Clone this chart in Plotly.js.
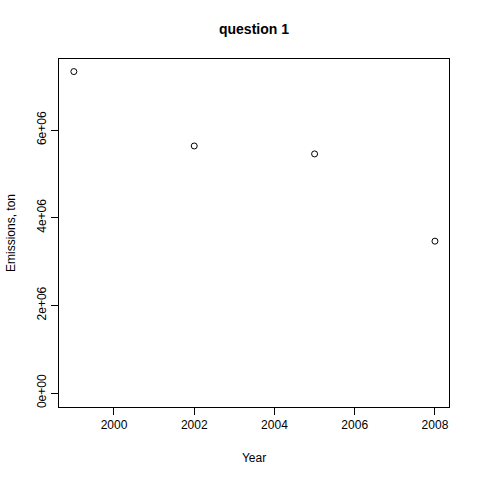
<!DOCTYPE html>
<html><head><script src="https://cdn.plot.ly/plotly-3.0.1.min.js"></script>
<style>body{margin:0}</style></head><body>
<div id="c" style="width:480px;height:480px"></div>
<script>
const years = [1999, 2002, 2005, 2008];
const emissions = [7332967, 5635780, 5454703, 3464206];
const yTickVals = [0, 2e6, 4e6, 6e6];
const yTickText = ["0e+00", "2e+06", "4e+06", "6e+06"];
const xTickVals = [2000, 2002, 2004, 2006, 2008];
const f = {family: "Liberation Sans, Arial, sans-serif", size: 12, color: "black"};
Plotly.newPlot("c", [{
  x: years, y: emissions, type: "scatter", mode: "markers",
  marker: {symbol: "circle-open", size: 6, color: "black", line: {width: 1, color: "black"}}
}], {
  width: 480, height: 480, showlegend: false,
  margin: {l: 59, r: 31, t: 59, b: 73},
  paper_bgcolor: "white", plot_bgcolor: "white",
  font: f,
  title: {text: "<b>question 1</b>", font: {family: f.family, size: 14, color: "black"}, xref: "paper", x: 0.5, y: 0.94, xanchor: "center", yanchor: "middle"},
  xaxis: {range: [1998.63, 2008.35], tickvals: xTickVals, ticks: "outside", ticklen: 7, showgrid: false, zeroline: false,
    showline: true, mirror: true, linecolor: "black", linewidth: 1, tickcolor: "black",
    title: {text: "Year", font: f, standoff: 22}},
  yaxis: {range: [-0.319e6, 7.62e6], tickvals: yTickVals, ticktext: yTickText, tickangle: -90, ticks: "outside", ticklen: 7,
    showgrid: false, zeroline: false, showline: true, mirror: true, linecolor: "black", linewidth: 1, tickcolor: "black",
    title: {text: "Emissions, ton", font: f, standoff: 17}}
}, {staticPlot: true});
</script></body></html>
